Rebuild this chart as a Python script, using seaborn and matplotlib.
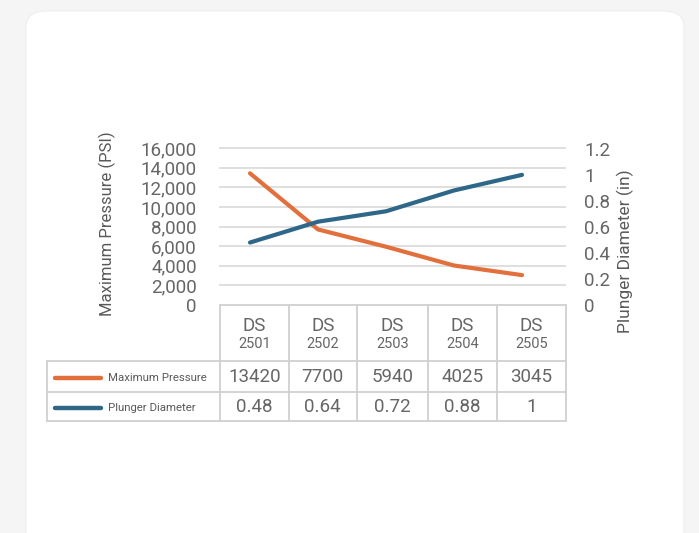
import numpy as np
import pandas as pd
import matplotlib.pyplot as plt
import seaborn as sns
from matplotlib.patches import FancyBboxPatch
from matplotlib.lines import Line2D

# chart data
categories = ["2501", "2502", "2503", "2504", "2505"]
max_pressure = [13420, 7700, 5940, 4025, 3045]
plunger_diameter = [0.48, 0.64, 0.72, 0.88, 1]
left_ticks = [0, 2000, 4000, 6000, 8000, 10000, 12000, 14000, 16000]
right_ticks = [0, 0.2, 0.4, 0.6, 0.8, 1.0, 1.2]
right_labels = ["0", "0.2", "0.4", "0.6", "0.8", "1", "1.2"]

ORANGE = "#E2703C"
BLUE = "#2E6788"
GRID = "#d9d9d9"
TXT = "#595959"
TXT_LIGHT = "#666666"

sns.set_theme(style="white")
plt.rcParams['font.family'] = ['Roboto', 'DejaVu Sans']

W, H = 699, 533
fig = plt.figure(figsize=(W / 100, H / 100), dpi=100)
fig.patch.set_facecolor("#f5f5f5")


def px(x, y):
    return x / W, 1 - y / H


# white card behind everything
card = FancyBboxPatch(px(26, 548), (684 - 26) / W, (548 - 11) / H,
                      boxstyle="round,pad=0,rounding_size=0.03",
                      transform=fig.transFigure, facecolor="white",
                      edgecolor="#eeeeee", linewidth=0.8, zorder=-10)
fig.patches.append(card)

# plot area
left, right, top, bottom = 219, 566, 141, 305
ax = fig.add_axes([left / W, 1 - bottom / H, (right - left) / W, (bottom - top) / H])
ax.set_facecolor("none")
ax2 = ax.twinx()
ax2.set_facecolor("none")

df = pd.DataFrame({"idx": np.arange(len(categories)),
                   "pressure": max_pressure,
                   "diameter": plunger_diameter})

sns.lineplot(data=df, x="idx", y="pressure", ax=ax, color=ORANGE, linewidth=3.0,
             solid_capstyle="round", zorder=3)
sns.lineplot(data=df, x="idx", y="diameter", ax=ax2, color=BLUE, linewidth=3.0,
             solid_capstyle="round", zorder=3)

ax.set_xlim(-0.456, 4.647)
ax.set_ylim(0, 16000 * 164 / 157)
ax2.set_ylim(0, 1.26)

for y in left_ticks[1:]:
    ax.axhline(y, color=GRID, linewidth=1.2, zorder=1)

ax.set_yticks(left_ticks)
ax.set_yticklabels([f"{v:,}" for v in left_ticks])
ax2.set_yticks(right_ticks)
ax2.set_yticklabels(right_labels)
ax.set_xticks([])
ax2.set_xticks([])
for a in (ax, ax2):
    for s in a.spines.values():
        s.set_visible(False)
    a.tick_params(axis="y", length=0, labelsize=13.5, colors=TXT_LIGHT)
    a.set_xlabel("")
    a.set_ylabel("")
ax.tick_params(axis="y", pad=16)
ax2.tick_params(axis="y", pad=13)

fig.text(*px(107, 224), "Maximum Pressure (PSI)", rotation=90, ha="center",
         va="center", fontsize=12, color=TXT)
fig.text(*px(625, 251), "Plunger Diameter (in)", rotation=90, ha="center",
         va="center", fontsize=12.5, color=TXT)

# data table
BORDER = "#d0d0d0"
col_edges = [220, 288.5, 357, 428, 497, 566]
row_y = [305, 361, 392, 421]


def seg(x0, y0, x1, y1, **kw):
    fig.add_artist(Line2D([x0 / W, x1 / W], [1 - y0 / H, 1 - y1 / H],
                          transform=fig.transFigure, **kw))


seg(220, 305, 566, 305, color=BORDER, linewidth=1.3)
for y in row_y[1:]:
    seg(47, y, 566, y, color=BORDER, linewidth=1.3)
seg(47, 361, 47, 421, color=BORDER, linewidth=1.3)
for x in col_edges:
    seg(x, 305, x, 421, color=BORDER, linewidth=1.3)

centers = [(col_edges[i] + col_edges[i + 1]) / 2 for i in range(len(categories))]
for cx, cat, p, d in zip(centers, categories, max_pressure, plunger_diameter):
    fig.text(*px(cx, 326), "DS", ha="center", va="center", fontsize=13.5, color=TXT_LIGHT)
    fig.text(*px(cx, 344), cat, ha="center", va="center", fontsize=10.5, color=TXT_LIGHT)
    fig.text(*px(cx, 377), str(p), ha="center", va="center", fontsize=13.5, color=TXT_LIGHT)
    fig.text(*px(cx, 407), f"{d:g}", ha="center", va="center", fontsize=13.5, color=TXT_LIGHT)

for y, col, name in [(378, ORANGE, "Maximum Pressure"), (408, BLUE, "Plunger Diameter")]:
    seg(55, y, 101, y, color=col, linewidth=3.2, solid_capstyle="round")
    fig.text(*px(108, y), name, ha="left", va="center", fontsize=8.2, color=TXT)

fig.savefig("out.png", dpi=100, facecolor=fig.get_facecolor())
